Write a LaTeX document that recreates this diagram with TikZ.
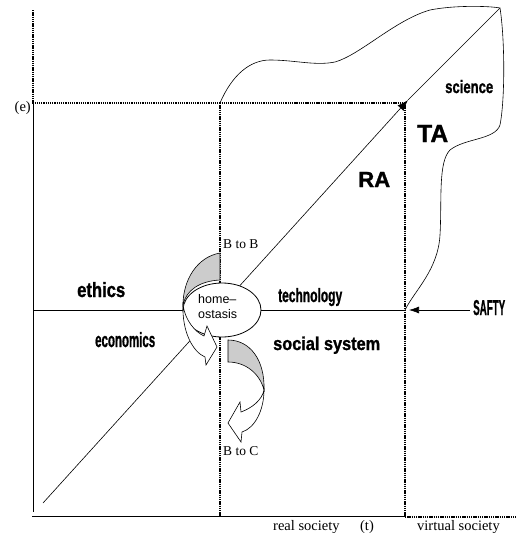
\documentclass[tikz,border=0pt]{standalone}
\usepackage{fontspec}
\setmainfont{Liberation Serif}
\setsansfont{Liberation Sans}
\newfontfamily\heavyfont{Liberation Sans}[FakeBold=1.3]
\usepackage{graphicx}
\usetikzlibrary{arrows.meta,shapes.geometric}
\definecolor{ribbon}{gray}{0.8}
\newcommand{\fitlbl}[3]{\resizebox{#1pt}{#2pt}{\heavyfont\bfseries #3}}
\begin{document}
\begin{tikzpicture}[x=1pt,y=-1pt,
  axisline/.style={line width=0.8pt},
  dotline/.style={line width=1.4pt, dash pattern=on 1.3pt off 0.9pt},
  thinline/.style={line width=0.6pt},
  lbl/.style={anchor=base west, inner sep=0pt},
  serif/.style={font=\fontsize{13.5}{15}\selectfont},
  axlbl/.style={font=\fontsize{14.5}{16}\selectfont},
  tipA/.style={-{Latex[length=11pt,width=8pt]}},
  ribbongrey/.style={draw, line width=0.6pt, fill=ribbon},
  ribbonwhite/.style={draw, line width=0.6pt, fill=white}]
\useasboundingbox (0,0) rectangle (517,533);

% key points
\coordinate (eTop) at (33,10);
\coordinate (eCorner) at (33,103);
\coordinate (eBot) at (33,512);
\coordinate (tLeft) at (32,516);
\coordinate (tRight) at (405,516);
\coordinate (vEnd) at (517,517);
\coordinate (hLeft) at (33,310);
\coordinate (hRight) at (405,310);
\coordinate (mTop) at (220,103);
\coordinate (mBot) at (220,516);
\coordinate (rTop) at (405,103);
\coordinate (rBot) at (405,516);
\coordinate (d0) at (43,503);
\coordinate (d1) at (408,100);
\coordinate (d2) at (500,8);
\coordinate (s0) at (470,310);
\coordinate (s1) at (409,310);

% solid axes
\draw[axisline] (eCorner) -- (eBot);
\draw[axisline] (tLeft) -- (tRight);
\draw[axisline] (hLeft) -- (hRight);

% dotted lines
\draw[dotline] (eTop) -- (eCorner) -- (rTop);
\draw[dotline] (mTop) -- (mBot);
\draw[dotline] (rTop) -- (rBot);
\draw[dotline] (rBot |- vEnd) -- (vEnd);

% diagonal
\draw[thinline, tipA] (d0) -- (d1);
\draw[thinline] (d1) -- (d2);

% science blob
\draw[thinline] (mTop) .. controls (232,75) and (250,60) .. (270,60)
  .. controls (295,60) and (315,66) .. (335,62)
  .. controls (360,55) and (395,20) .. (430,10)
  .. controls (455,5) and (490,6) .. (d2)
  .. controls (505,40) and (505,100) .. (500,125)
  .. controls (495,140) and (465,138) .. (450,150)
  .. controls (438,162) and (442,200) .. (440,235)
  .. controls (438,270) and (415,290) .. (hRight);

% SAFTY arrow
\draw[thinline, -{Latex[length=10pt,width=7pt]}] (s0) -- (s1);

% upper curved arrow (B to B)
\path[ribbongrey] (220,253) .. controls (197,257) and (183,280) .. (183,305)
  .. controls (186,290) and (200,281) .. (220,280) -- cycle;

% homeostasis ellipse
\node[draw, ellipse, line width=0.8pt, fill=white, minimum width=78pt, minimum height=54pt, inner sep=0pt] (homeo) at (222,310) {};

\path[ribbonwhite] (183,305) .. controls (182,332) and (193,352) .. (205,357)
  -- (206,365) -- (217,347) -- (207,326) -- (204,336)
  .. controls (195,332) and (185,320) .. (183,305) -- cycle;

% lower curved arrow (B to C)
\path[ribbongrey] (228,340) .. controls (250,340) and (265,360) .. (264,390)
  .. controls (260,374) and (246,362) .. (228,362) -- cycle;
\path[ribbonwhite] (264,390) .. controls (264,410) and (255,428) .. (242,432)
  -- (241,442) -- (228,423) -- (240,402) -- (241,412)
  .. controls (252,408) and (262,400) .. (264,390) -- cycle;

% ellipse text
\node[lbl, font=\sffamily\fontsize{12.5}{14}\selectfont] (home) at (198,303) {home–};
\node[lbl, font=\sffamily\fontsize{12.5}{14}\selectfont] (ostasis) at (198,318) {ostasis};

% bold labels
\node[lbl] (ethics) at (77,297) {\fitlbl{48}{15}{ethics}};
\node[lbl] (economics) at (95,347) {\fitlbl{60}{15}{economics}};
\node[lbl] (technology) at (278,302) {\fitlbl{64}{14}{technology}};
\node[lbl] (social) at (273,350) {\fitlbl{107}{13.5}{social system}};
\node[lbl] (science) at (445,93) {\fitlbl{48}{13}{science}};
\node[lbl] (safty) at (473,315) {\fitlbl{32}{15}{SAFTY}};
\node[lbl] (TA) at (417,142) {\fitlbl{31}{17}{TA}};
\node[lbl] (RA) at (358,187) {\fitlbl{32}{15}{RA}};

% serif labels
\node[lbl, serif] (btob) at (223,248) {B to B};
\node[lbl, serif] (btoc) at (223,455) {B to C};
\node[anchor=base east, inner sep=0pt, axlbl] (elbl) at (31,111) {(e)};
\node[lbl, axlbl] (real) at (273,530) {real society};
\node[anchor=base, inner sep=0pt, axlbl] (tlbl) at (367,530) {(t)};
\node[lbl, axlbl] (virtual) at (417,530) {virtual society};
\end{tikzpicture}
\end{document}
